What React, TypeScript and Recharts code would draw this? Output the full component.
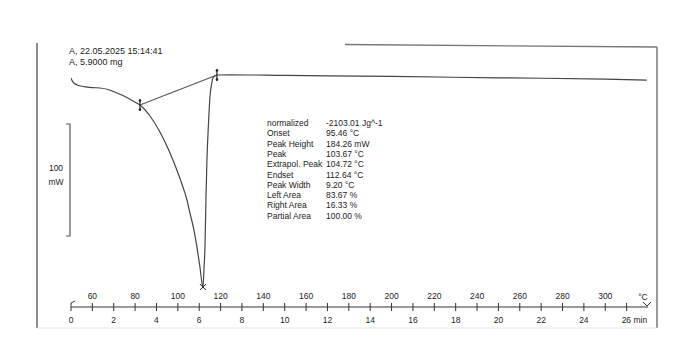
import { LineChart, Line, XAxis, YAxis, ReferenceDot } from "recharts";

// DSC run, heat flow (mW, arbitrary zero) against time (min)
const curveTime = [
  0, 0.047, 0.164, 0.281, 0.608, 0.982, 1.356, 1.731, 2.152, 2.526, 2.9, 3.227,
  3.695, 4.163, 4.443, 4.771, 5.005, 5.239, 5.426, 5.566, 5.753, 5.893, 6.034, 6.174,
  6.221, 6.268, 6.314, 6.361, 6.431, 6.501, 6.572, 6.642, 6.735, 6.829,
  7.5, 10, 15, 20, 25, 26.94,
];
const curveFlow = [
  -2.7, -4.9, -7.6, -8.9, -10.3, -11.2, -11.6, -12.9, -16.1, -19.2, -23.2, -26.8,
  -36.6, -50.9, -61.6, -75.9, -87.5, -100.0, -111.6, -123.2, -138.4, -153.6, -171.4, -189.3,
  -174.1, -153.6, -111.6, -75.9, -44.6, -19.6, -8.9, -2.7, -0.9, 0,
  0.2, -0.4, -1.3, -2.5, -3.6, -4.5,
];

// integration baseline, onset side -> endset side
const baselineTime = [3.227, 6.829];
const baselineFlow = [-26.8, 0];

const peakTime = 6.174;
const peakFlow = -189.3;

const minuteTicks = [0, 2, 4, 6, 8, 10, 12, 14, 16, 18, 20, 22, 24, 26];
const tempTicks = [60, 80, 100, 120, 140, 160, 180, 200, 220, 240, 260, 280, 300];
const startTemp = 50; // °C at 0 min
const heatRate = 10; // K/min

const headerLines = ["A, 22.05.2025 15:14:41", "A, 5.9000 mg"];

const resultLabels = [
  "normalized", "Onset", "Peak Height", "Peak", "Extrapol. Peak", "Endset",
  "Peak Width", "Left Area", "Right Area", "Partial Area",
];
const resultValues = [
  "-2103.01 Jg^-1", "95.46 °C", "184.26 mW", "103.67 °C", "104.72 °C", "112.64 °C",
  "9.20 °C", "83.67 %", "16.33 %", "100.00 %",
];

const curve = curveTime.map((t, i) => ({ t, v: curveFlow[i] }));
const baseline = baselineTime.map((t, i) => ({ t, v: baselineFlow[i] }));
const tempTimes = tempTicks.map((T) => (T - startTemp) / heatRate);
const allTicks = [...minuteTicks, ...tempTimes].sort((a, b) => a - b);

const FONT = "'Liberation Sans', Arial, sans-serif";
const INK = "#333";

const AxisTick = (props: any) => {
  const { x, y, payload } = props;
  const v = payload.value;
  const mi = minuteTicks.indexOf(v);
  const ti = tempTimes.indexOf(v);
  return (
    <g>
      <line x1={x} x2={x} y1={y - 4} y2={y + 4} stroke={INK} strokeWidth={1} />
      {v === 0 && <line x1={x} x2={x + 4} y1={y - 4} y2={y - 6} stroke={INK} strokeWidth={1} />}
      {mi >= 0 && (
        <text
          x={v === 26 ? x - 5 : x}
          y={y + 16}
          fontSize={8.5}
          fontFamily={FONT}
          fill="#222"
          textAnchor={v === 26 ? "start" : "middle"}
        >
          {v === 26 ? "26 min" : String(v)}
        </text>
      )}
      {ti >= 0 && (
        <text x={x} y={y - 8} fontSize={8.5} fontFamily={FONT} fill="#222" textAnchor="middle">
          {tempTicks[ti]}
        </text>
      )}
    </g>
  );
};

const EdgeMark = (props: any) => {
  const { cx, cy, index } = props;
  return (
    <g key={`m${index}`}>
      <line x1={cx} x2={cx} y1={cy - 6} y2={cy + 6} stroke="#222" strokeWidth={1.2} />
      <circle cx={cx} cy={cy - 4.5} r={1.3} fill="#222" />
      <circle cx={cx} cy={cy + 4.5} r={1.3} fill="#222" />
    </g>
  );
};

const PeakCross = (props: any) => {
  const { cx, cy } = props;
  return (
    <g>
      <line x1={cx - 3} x2={cx + 3} y1={cy - 3} y2={cy + 3} stroke="#222" strokeWidth={1} />
      <line x1={cx - 3} x2={cx + 3} y1={cy + 3} y2={cy - 3} stroke="#222" strokeWidth={1} />
    </g>
  );
};

export default function App() {
  return (
    <div style={{ position: "absolute", left: 0, top: 0, width: 678, height: 355, background: "#fff" }}>
      <LineChart width={678} height={355} margin={{ top: 47, right: 30, left: 71, bottom: 18 }}>
        <XAxis
          type="number"
          dataKey="t"
          domain={[0, 27]}
          ticks={allTicks}
          interval={0}
          tick={<AxisTick />}
          tickLine={false}
          tickSize={0}
          tickMargin={0}
          height={30}
          axisLine={{ stroke: INK, strokeWidth: 1 }}
          allowDataOverflow
        />
        <YAxis type="number" dataKey="v" domain={[-207.1, 25]} hide allowDataOverflow />
        <Line
          data={curve}
          dataKey="v"
          type="monotone"
          stroke="#444"
          strokeWidth={1.2}
          dot={false}
          isAnimationActive={false}
        />
        <Line
          data={baseline}
          dataKey="v"
          type="linear"
          stroke="#555"
          strokeWidth={1.1}
          dot={<EdgeMark />}
          activeDot={false}
          isAnimationActive={false}
        />
        <ReferenceDot x={peakTime} y={peakFlow} r={3} shape={<PeakCross />} />
      </LineChart>

      <svg
        width={678}
        height={355}
        style={{ position: "absolute", left: 0, top: 0, pointerEvents: "none" }}
      >
        {/* frame */}
        <line x1={37} x2={37} y1={43} y2={328} stroke="#666" strokeWidth={1.5} />
        <line x1={657} x2={657} y1={47} y2={328} stroke="#777" strokeWidth={1.5} />
        <line x1={345} x2={657} y1={44.5} y2={47} stroke="#777" strokeWidth={1.3} />
        <line x1={37} x2={657} y1={328} y2={328} stroke="#e6e6e6" strokeWidth={1} />

        {/* axis end marks */}
        <line x1={643} x2={647} y1={302} y2={306} stroke={INK} strokeWidth={1} />
        <line x1={651} x2={647} y1={302} y2={306} stroke={INK} strokeWidth={1} />
        <text x={643} y={300} fontSize={8.5} fontFamily={FONT} fill="#222" textAnchor="middle">
          °C
        </text>

        {/* 100 mW scale bar */}
        <path d="M66,124 L70,124 L70,236 L66,236" fill="none" stroke="#555" strokeWidth={1.2} />
        <text x={56} y={171} fontSize={8.5} fontFamily={FONT} fill="#222" textAnchor="middle">
          100
        </text>
        <text x={56} y={185} fontSize={8.5} fontFamily={FONT} fill="#222" textAnchor="middle">
          mW
        </text>

        {/* header */}
        {headerLines.map((s, i) => (
          <text key={s} x={69} y={54 + i * 10.5} fontSize={9} fontFamily={FONT} fill="#222">
            {s}
          </text>
        ))}

        {/* evaluation results */}
        {resultLabels.map((s, i) => (
          <g key={s}>
            <text x={267} y={126 + i * 10.3} fontSize={8.5} fontFamily={FONT} fill="#222">
              {s}
            </text>
            <text x={326} y={126 + i * 10.3} fontSize={8.5} fontFamily={FONT} fill="#222">
              {resultValues[i]}
            </text>
          </g>
        ))}
      </svg>
    </div>
  );
}
